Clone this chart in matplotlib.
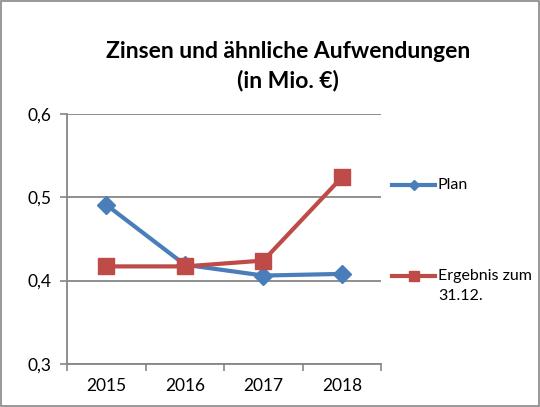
import matplotlib.pyplot as plt
from matplotlib.lines import Line2D
from matplotlib.patches import Rectangle

# data
years = ['2015', '2016', '2017', '2018']
plan = [0.491, 0.419, 0.406, 0.408]
ergebnis = [0.417, 0.417, 0.424, 0.524]
y_ticks = [0.3, 0.4, 0.5, 0.6]
y_labels = ['0,3', '0,4', '0,5', '0,6']

blue = '#4A7EBB'
red = '#BE4B48'
grey = '#868686'

plt.rcParams['font.family'] = ['Lato', 'DejaVu Sans']

fig = plt.figure(figsize=(5.4, 4.07), dpi=100)
ax = fig.add_axes([0.124, 0.106, 0.582, 0.614])

x = list(range(len(years)))
ax.plot(x, plan, color=blue, lw=3, marker='D', markersize=9, zorder=3)
ax.plot(x, ergebnis, color=red, lw=3, marker='s', markersize=12, zorder=4)

ax.set_xlim(-0.5, len(years) - 0.5)
ax.set_ylim(0.3, 0.6)
ax.set_yticks(y_ticks)
ax.set_yticklabels(y_labels, fontsize=12.5)
ax.set_xticks(x)
ax.set_xticklabels(years, fontsize=12.5)
ax.set_xticks([i - 0.5 for i in range(len(years) + 1)], minor=True)
ax.tick_params(axis='x', which='major', length=0, pad=10)
ax.tick_params(axis='x', which='minor', length=5, color=grey, width=1.2)
ax.tick_params(axis='y', length=5, color=grey, width=1.2, pad=6)
ax.grid(axis='y', color=grey, lw=1.3)
ax.set_axisbelow(True)
for s in ['top', 'right']:
    ax.spines[s].set_visible(False)
for s in ['left', 'bottom']:
    ax.spines[s].set_color(grey)
    ax.spines[s].set_linewidth(1.3)

fig.text(0.534, 0.838, 'Zinsen und ähnliche Aufwendungen\n(in Mio. €)',
         ha='center', va='center', fontsize=16.5, fontweight='bold', linespacing=1.45)

# legend on the right
fig.add_artist(Line2D([0.726, 0.806], [0.545, 0.545], color=blue, lw=3))
fig.add_artist(Line2D([0.766], [0.545], color=blue, marker='D', markersize=5))
fig.text(0.811, 0.545, 'Plan', va='center', fontsize=11.5)
fig.add_artist(Line2D([0.726, 0.806], [0.322, 0.322], color=red, lw=3))
fig.add_artist(Line2D([0.766], [0.322], color=red, marker='s', markersize=7))
fig.text(0.811, 0.322, 'Ergebnis zum', va='center', fontsize=11.5)
fig.text(0.811, 0.272, '31.12.', va='center', fontsize=11.5)

fig.add_artist(Rectangle((0.002, 0.002), 0.996, 0.996, transform=fig.transFigure,
                         fill=False, edgecolor=grey, lw=1.2))

fig.savefig('out.png', dpi=100)
